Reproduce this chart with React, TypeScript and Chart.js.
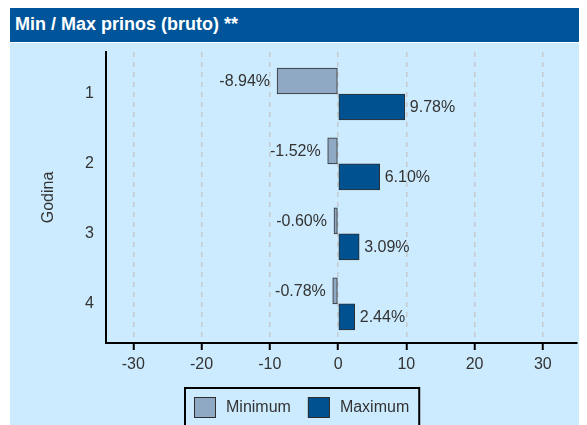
import React, { useEffect, useRef } from 'react';
import { Chart, registerables } from 'chart.js';

Chart.register(...registerables);

// ---- data ----
const categories = ['1', '2', '3', '4'];
const minValues = [-8.94, -1.52, -0.6, -0.78];
const maxValues = [9.78, 6.1, 3.09, 2.44];
const xTickValues = [-30, -20, -10, 0, 10, 20, 30];
const seriesNames = ['Minimum', 'Maximum'];
const titleText = 'Min / Max prinos (bruto) **';
const axisTitle = 'Godina';

// ---- styles ----
const FONT_FAMILY = '"Liberation Sans", Arial, Helvetica, sans-serif';
const TEXT_COLOR = '#333333';
const MIN_COLOR = '#8FA8C4';
const MAX_COLOR = '#00518F';
const BAR_BORDER = '#2e2e2e';
const PANEL_BG = '#CCEBFF';
const TITLE_BG = '#00559A';

const valueLabelPlugin = {
  id: 'valueLabels',
  afterDatasetsDraw(chart: any) {
    const ctx = chart.ctx;
    ctx.save();
    ctx.font = `16px ${FONT_FAMILY}`;
    ctx.fillStyle = TEXT_COLOR;
    ctx.textBaseline = 'middle';
    chart.data.datasets.forEach((ds: any, di: number) => {
      const meta = chart.getDatasetMeta(di);
      meta.data.forEach((el: any, i: number) => {
        const v = ds.data[i] as number;
        const { x, y } = el.getProps(['x', 'y'], true);
        const txt = v.toFixed(2) + '%';
        if (v < 0) {
          ctx.textAlign = 'right';
          ctx.fillText(txt, x - 7, y + 1);
        } else {
          ctx.textAlign = 'left';
          ctx.fillText(txt, x + 5, y + 1);
        }
      });
    });
    ctx.restore();
  },
};

const boxLegendPlugin = {
  id: 'boxLegend',
  afterDraw(chart: any) {
    const ctx = chart.ctx;
    const boxLeft = 174;
    const boxTop = 344;
    const swW = 22;
    const swH = 21;
    const pad = 10;
    ctx.save();
    ctx.font = `16px ${FONT_FAMILY}`;
    ctx.textBaseline = 'middle';
    ctx.textAlign = 'left';
    let x = boxLeft + pad;
    const swTop = boxTop + pad;
    chart.data.datasets.forEach((ds: any, di: number) => {
      ctx.fillStyle = ds.backgroundColor;
      ctx.fillRect(x, swTop, swW, swH);
      ctx.lineWidth = 1;
      ctx.strokeStyle = BAR_BORDER;
      ctx.strokeRect(x + 0.5, swTop + 0.5, swW - 1, swH - 1);
      x += swW + 10;
      ctx.fillStyle = TEXT_COLOR;
      ctx.fillText(ds.label, x, swTop + swH / 2 + 0.5);
      x += ctx.measureText(ds.label).width;
      if (di < chart.data.datasets.length - 1) x += 17;
    });
    const boxRight = x + 11;
    ctx.lineWidth = 2;
    ctx.strokeStyle = '#000000';
    ctx.strokeRect(boxLeft + 1, boxTop + 1, boxRight - boxLeft - 2, 120);
    ctx.restore();
  },
};

function ChartPanel() {
  const canvasRef = useRef<HTMLCanvasElement | null>(null);

  useEffect(() => {
    document.documentElement.style.overflow = 'hidden';
    document.body.style.overflow = 'hidden';
    const canvas = canvasRef.current;
    if (!canvas) return;
    const font = { family: FONT_FAMILY, size: 16 };
    const chart = new Chart(canvas, {
      type: 'bar',
      data: {
        labels: categories.map((_, i) => i),
        datasets: [
          {
            label: seriesNames[0],
            data: minValues,
            backgroundColor: MIN_COLOR,
            borderColor: BAR_BORDER,
            borderWidth: 1,
            borderSkipped: false,
            barThickness: 26,
          },
          {
            label: seriesNames[1],
            data: maxValues,
            backgroundColor: MAX_COLOR,
            borderColor: BAR_BORDER,
            borderWidth: 1,
            borderSkipped: false,
            barThickness: 26,
          },
        ],
      } as any,
      options: {
        indexAxis: 'y',
        animation: false,
        responsive: false,
        maintainAspectRatio: false,
        layout: { padding: { top: 9, right: 10, left: 0, bottom: 0 } },
        plugins: {
          legend: { display: false },
          tooltip: { enabled: false },
          title: { display: false },
        },
        scales: {
          x: {
            type: 'linear',
            min: -34,
            max: 35,
            offset: false,
            afterBuildTicks: (s: any) => {
              s.ticks = xTickValues.map((v) => ({ value: v }));
            },
            ticks: {
              font,
              color: TEXT_COLOR,
              padding: 5,
              maxRotation: 0,
              autoSkip: false,
              callback: (v: any) => String(v),
            },
            grid: {
              color: '#c6cacf',
              lineWidth: 1.5,
              drawTicks: true,
              tickLength: 7,
              tickColor: '#000000',
              tickWidth: 2,
              tickBorderDash: [],
            },
            border: { display: true, color: '#000000', width: 2, dash: [5, 5] },
            afterFit: (s: any) => {
              s.height = 82;
              s.paddingLeft = 0;
              s.paddingRight = 0;
            },
          },
          y: {
            type: 'linear',
            reverse: true,
            offset: false,
            min: -0.6,
            max: 3.56,
            afterBuildTicks: (s: any) => {
              s.ticks = categories.map((_, i) => ({ value: i }));
            },
            ticks: {
              font,
              color: TEXT_COLOR,
              padding: 12,
              autoSkip: false,
              callback: (v: any) => categories[v as number] ?? '',
            },
            grid: { display: false, drawTicks: false, offset: false },
            border: { display: true, color: '#000000', width: 2 },
            title: {
              display: true,
              text: axisTitle,
              font,
              color: TEXT_COLOR,
              padding: { top: 29, bottom: 0 },
            },
            afterFit: (s: any) => {
              s.width = 96;
              s.paddingTop = 0;
              s.paddingBottom = 0;
            },
          },
        },
      } as any,
      plugins: [valueLabelPlugin, boxLegendPlugin],
    });
    return () => chart.destroy();
  }, []);

  return <canvas ref={canvasRef} width={577} height={382} style={{ display: 'block' }} />;
}

export default function App() {
  return (
    <div style={{ marginLeft: 2, marginTop: -1, width: 577, fontFamily: FONT_FAMILY }}>
      <div
        style={{
          height: 35,
          lineHeight: '35px',
          background: TITLE_BG,
          color: '#ffffff',
          fontWeight: 'bold',
          fontSize: 18,
          paddingLeft: 5,
          boxSizing: 'border-box',
          whiteSpace: 'nowrap',
        }}
      >
        {titleText}
      </div>
      <div style={{ marginTop: 1, height: 382, background: PANEL_BG, overflow: 'hidden' }}>
        <ChartPanel />
      </div>
    </div>
  );
}
